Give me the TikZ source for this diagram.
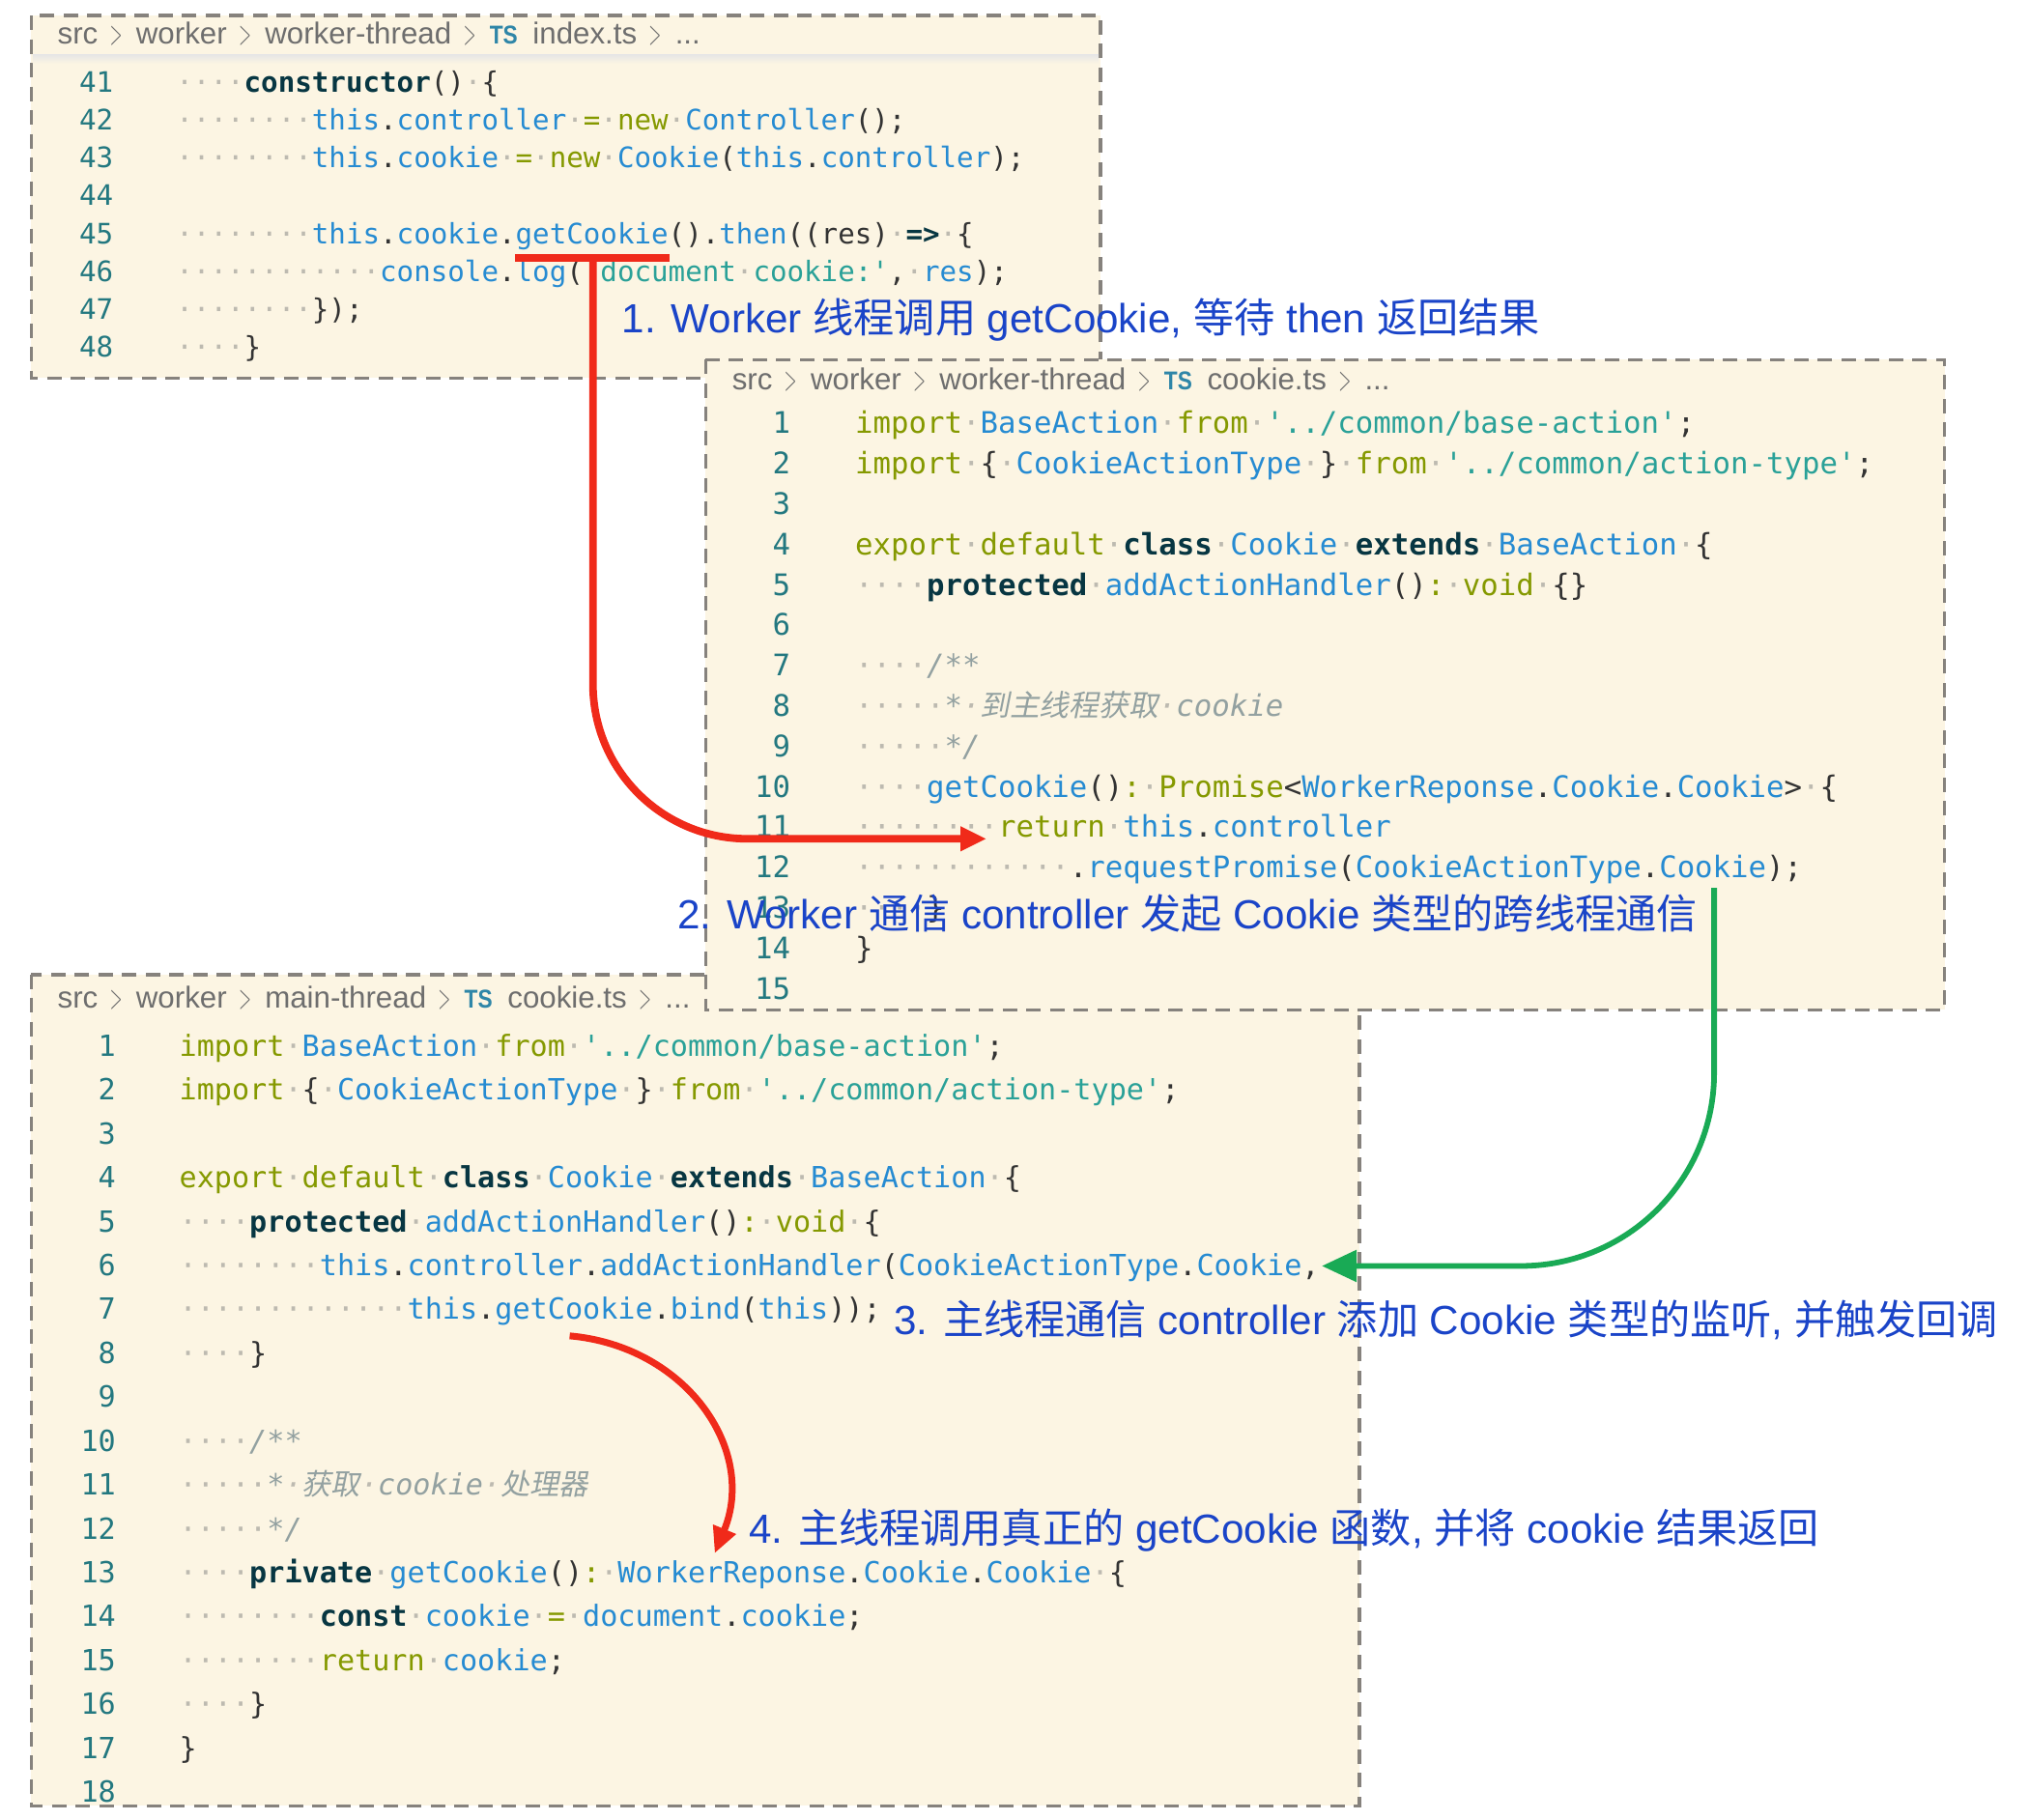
\documentclass[tikz,border=0pt]{standalone}
\usepackage{fontspec}
\setmainfont{Noto Sans}
\setmonofont{DejaVu Sans Mono}
\newfontfamily\cjk{Noto Sans CJK SC}
\newfontfamily\cjkit{Noto Sans CJK SC}[FakeSlant=0.2]
\newfontfamily\latinsans{Liberation Sans}
\usepackage{xcolor}
\usetikzlibrary{arrows.meta}

\definecolor{bgc}{HTML}{FCF5E3}
\definecolor{edgec}{HTML}{86827D}
\definecolor{kwc}{HTML}{859900}
\definecolor{idc}{HTML}{268BD2}
\definecolor{strc}{HTML}{2AA198}
\definecolor{bfc}{HTML}{073642}
\definecolor{punc}{HTML}{333333}
\definecolor{cmc}{HTML}{93A1A1}
\definecolor{dotc}{HTML}{BDBAB0}
\definecolor{lnc}{HTML}{237880}
\definecolor{crumbc}{HTML}{6E6E6E}
\definecolor{tsc}{HTML}{2F86A8}
\definecolor{notec}{HTML}{1A44C8}
\definecolor{redc}{HTML}{F02A1A}
\definecolor{greenc}{HTML}{19AA55}

% code colouring
\newcommand\ckw[1]{\textcolor{kwc}{#1}}
\newcommand\cid[1]{\textcolor{idc}{#1}}
\newcommand\cstr[1]{\textcolor{strc}{#1}}
\newcommand\cbf[1]{\textcolor{bfc}{\bfseries #1}}
\newcommand\ccm[1]{\textcolor{cmc}{\itshape #1}}
\newcommand\spc[1]{\textcolor{dotc}{\foreach\k in {1,...,#1}{·}}}
% breadcrumb bits
\newcommand\chev{\hspace{0.4em}\scalebox{0.5}[1.05]{$>$}\hspace{0.46em}}
\newcommand\tsicon{\textcolor{tsc}{\fontsize{7.6}{8}\selectfont\bfseries\scalebox{0.85}[1]{TS}}\hspace{0.5em}}
% latin part of the notes
\newcommand\nl[1]{{\latinsans #1}}
% code fonts of the three shots
\newcommand\fa{\ttfamily\fontsize{8.30}{10}\selectfont}
\newcommand\fb{\ttfamily\fontsize{8.74}{10}\selectfont}
\newcommand\fc{\ttfamily\fontsize{8.58}{10}\selectfont}

\begin{document}
\begin{tikzpicture}[x=0.134mm,y=-0.134mm,
	panel/.style={fill=bgc,draw=edgec,line width=0.33mm,dash pattern=on 1.5mm off 0.95mm},
	crumb/.style={anchor=mid west,inner sep=0,text=crumbc,font=\latinsans\fontsize{8.9}{10}\selectfont},
	lnum/.style={anchor=mid east,inner sep=0,text=lnc},
	codeline/.style={anchor=mid west,inner sep=0,text=punc},
	note/.style={anchor=west,inner sep=0,text=notec,font=\cjk\fontsize{12}{14}\selectfont},
	redline/.style={draw=redc,line width=0.78mm},
	redarrow/.style={redline,-{Triangle[length=2.7mm,width=2.4mm]}},
	greenarrow/.style={draw=greenc,line width=0.58mm,-{Triangle[length=3.6mm,width=3.2mm]}}]
	\useasboundingbox (0,0) rectangle (1567.2,1406);

	% worker-thread/index.ts
	\draw[panel] (24,12) rectangle (850,292);
	\shade[top color=black!10,bottom color=bgc] (25.3,42) rectangle (848.7,49);
	\node[crumb] (crumb1) at (44,27) {src\chev worker\chev worker-thread\chev\tsicon index.ts\chev ...};
	\foreach \n [count=\i from 0] in {41,...,48}
		\node[lnum,font=\fa] (n1-\n) at (88,64+\i*29.3) {\n};
	\node[codeline,font=\fa] (a41) at (135.6,64) {\spc4\cbf{constructor}()\spc1\{};
	\node[codeline,font=\fa] (a42) at (135.6,93.3) {\spc8\cid{this}.\cid{controller}\spc1\ckw{=}\spc1\ckw{new}\spc1\cid{Controller}();};
	\node[codeline,font=\fa] (a43) at (135.6,122.6) {\spc8\cid{this}.\cid{cookie}\spc1\ckw{=}\spc1\ckw{new}\spc1\cid{Cookie}(\cid{this}.\cid{controller});};
	\node[codeline,font=\fa] (a45) at (135.6,181.2) {\spc8\cid{this}.\cid{cookie}.\cid{getCookie}().\cid{then}((res)\spc1\cbf{=>}\spc1\{};
	\node[codeline,font=\fa] (a46) at (135.6,210.5) {\spc{12}\cid{console}.\cid{log}(\cstr{'document\spc1cookie:'},\spc1\cid{res});};
	\node[codeline,font=\fa] (a47) at (135.6,239.8) {\spc8\});};
	\node[codeline,font=\fa] (a48) at (135.6,269.1) {\spc4\}};

	% main-thread/cookie.ts
	\draw[panel] (24,753) rectangle (1050,1395);
	\node[crumb] (crumb3) at (44,772) {src\chev worker\chev main-thread\chev\tsicon cookie.ts\chev ...};
	\foreach \n in {1,...,18}
		\node[lnum,font=\fc] (n3-\n) at (90,809+\n*33.9-33.9) {\n};
	\node[codeline,font=\fc] (c1) at (138,809) {\ckw{import}\spc1\cid{BaseAction}\spc1\ckw{from}\spc1\cstr{'../common/base-action'};};
	\node[codeline,font=\fc] (c2) at (138,842.9) {\ckw{import}\spc1\{\spc1\cid{CookieActionType}\spc1\}\spc1\ckw{from}\spc1\cstr{'../common/action-type'};};
	\node[codeline,font=\fc] (c4) at (138,910.7) {\ckw{export}\spc1\ckw{default}\spc1\cbf{class}\spc1\cid{Cookie}\spc1\cbf{extends}\spc1\cid{BaseAction}\spc1\{};
	\node[codeline,font=\fc] (c5) at (138,944.6) {\spc4\cbf{protected}\spc1\cid{addActionHandler}()\ckw{:}\spc1\ckw{void}\spc1\{};
	\node[codeline,font=\fc] (c6) at (138,978.5) {\spc8\cid{this}.\cid{controller}.\cid{addActionHandler}(\cid{CookieActionType}.\cid{Cookie},};
	\node[codeline,font=\fc] (c7) at (138,1012.4) {\spc{13}\cid{this}.\cid{getCookie}.\cid{bind}(\cid{this}));};
	\node[codeline,font=\fc] (c8) at (138,1046.3) {\spc4\}};
	\node[codeline,font=\fc] (c10) at (138,1114.1) {\spc4\ccm{/**}};
	\node[codeline,font=\fc] (c11) at (138,1148) {\spc5\ccm{*\spc1{\cjkit 获取}\spc1cookie\spc1{\cjkit 处理器}}};
	\node[codeline,font=\fc] (c12) at (138,1181.9) {\spc5\ccm{*/}};
	\node[codeline,font=\fc] (c13) at (138,1215.8) {\spc4\cbf{private}\spc1\cid{getCookie}()\ckw{:}\spc1\cid{WorkerReponse}.\cid{Cookie}.\cid{Cookie}\spc1\{};
	\node[codeline,font=\fc] (c14) at (138,1249.7) {\spc8\cbf{const}\spc1\cid{cookie}\spc1\ckw{=}\spc1\cid{document}.\cid{cookie};};
	\node[codeline,font=\fc] (c15) at (138,1283.6) {\spc8\ckw{return}\spc1\cid{cookie};};
	\node[codeline,font=\fc] (c16) at (138,1317.5) {\spc4\}};
	\node[codeline,font=\fc] (c17) at (138,1351.4) {\}};

	% worker-thread/cookie.ts, lies on top of the other two
	\draw[panel] (545,278) rectangle (1502,780);
	\node[crumb] (crumb2) at (565,294) {src\chev worker\chev worker-thread\chev\tsicon cookie.ts\chev ...};
	\foreach \n in {1,...,15}
		\node[lnum,font=\fb] (n2-\n) at (611,328+\n*31.2-31.2) {\n};
	\node[codeline,font=\fb] (b1) at (660,328) {\ckw{import}\spc1\cid{BaseAction}\spc1\ckw{from}\spc1\cstr{'../common/base-action'};};
	\node[codeline,font=\fb] (b2) at (660,359.2) {\ckw{import}\spc1\{\spc1\cid{CookieActionType}\spc1\}\spc1\ckw{from}\spc1\cstr{'../common/action-type'};};
	\node[codeline,font=\fb] (b4) at (660,421.6) {\ckw{export}\spc1\ckw{default}\spc1\cbf{class}\spc1\cid{Cookie}\spc1\cbf{extends}\spc1\cid{BaseAction}\spc1\{};
	\node[codeline,font=\fb] (b5) at (660,452.8) {\spc4\cbf{protected}\spc1\cid{addActionHandler}()\ckw{:}\spc1\ckw{void}\spc1\{\}};
	\node[codeline,font=\fb] (b7) at (660,515.2) {\spc4\ccm{/**}};
	\node[codeline,font=\fb] (b8) at (660,546.4) {\spc5\ccm{*\spc1{\cjkit 到主线程获取}\spc1cookie}};
	\node[codeline,font=\fb] (b9) at (660,577.6) {\spc5\ccm{*/}};
	\node[codeline,font=\fb] (b10) at (660,608.8) {\spc4\cid{getCookie}()\ckw{:}\spc1\ckw{Promise}<\cid{WorkerReponse}.\cid{Cookie}.\cid{Cookie}>\spc1\{};
	\node[codeline,font=\fb] (b11) at (660,640) {\spc8\ckw{return}\spc1\cid{this}.\cid{controller}};
	\node[codeline,font=\fb] (b12) at (660,671.2) {\spc{12}.\cid{requestPromise}(\cid{CookieActionType}.\cid{Cookie});};
	\node[codeline,font=\fb] (b13) at (660,702.4) {\spc4\}};
	\node[codeline,font=\fb] (b14) at (660,733.6) {\}};

	% arrows
	\coordinate (u1) at (398,199);
	\coordinate (u2) at (517,199);
	\coordinate (r1s) at (458,199);
	\coordinate (r1e) at (762,648);
	\draw[redline] (u1) -- (u2);
	\draw[redarrow,rounded corners=16mm] (r1s) |- (r1e);
	\coordinate (g1) at (1324,686);
	\coordinate (g2) at (1021,978);
	\draw[greenarrow,rounded corners=20mm] (g1) |- (g2);
	\coordinate (r4s) at (440,1032);
	\coordinate (r4e) at (552,1200);
	\draw[redarrow,line width=0.7mm] (r4s) .. controls (530,1040) and (585,1120) .. (r4e);

	% notes
	\node[note] (note1) at (480,247) {\nl{1. Worker }线程调用\nl{ getCookie, }等待\nl{ then }返回结果};
	\node[note] (note2) at (523,706) {\nl{2. Worker }通信\nl{ controller }发起\nl{ Cookie }类型的跨线程通信};
	\node[note] (note3) at (690,1020) {\nl{3. }主线程通信\nl{ controller }添加\nl{ Cookie }类型的监听\nl{, }并触发回调};
	\node[note] (note4) at (578,1182) {\nl{4. }主线程调用真正的\nl{ getCookie }函数\nl{, }并将\nl{ cookie }结果返回};
\end{tikzpicture}
\end{document}
